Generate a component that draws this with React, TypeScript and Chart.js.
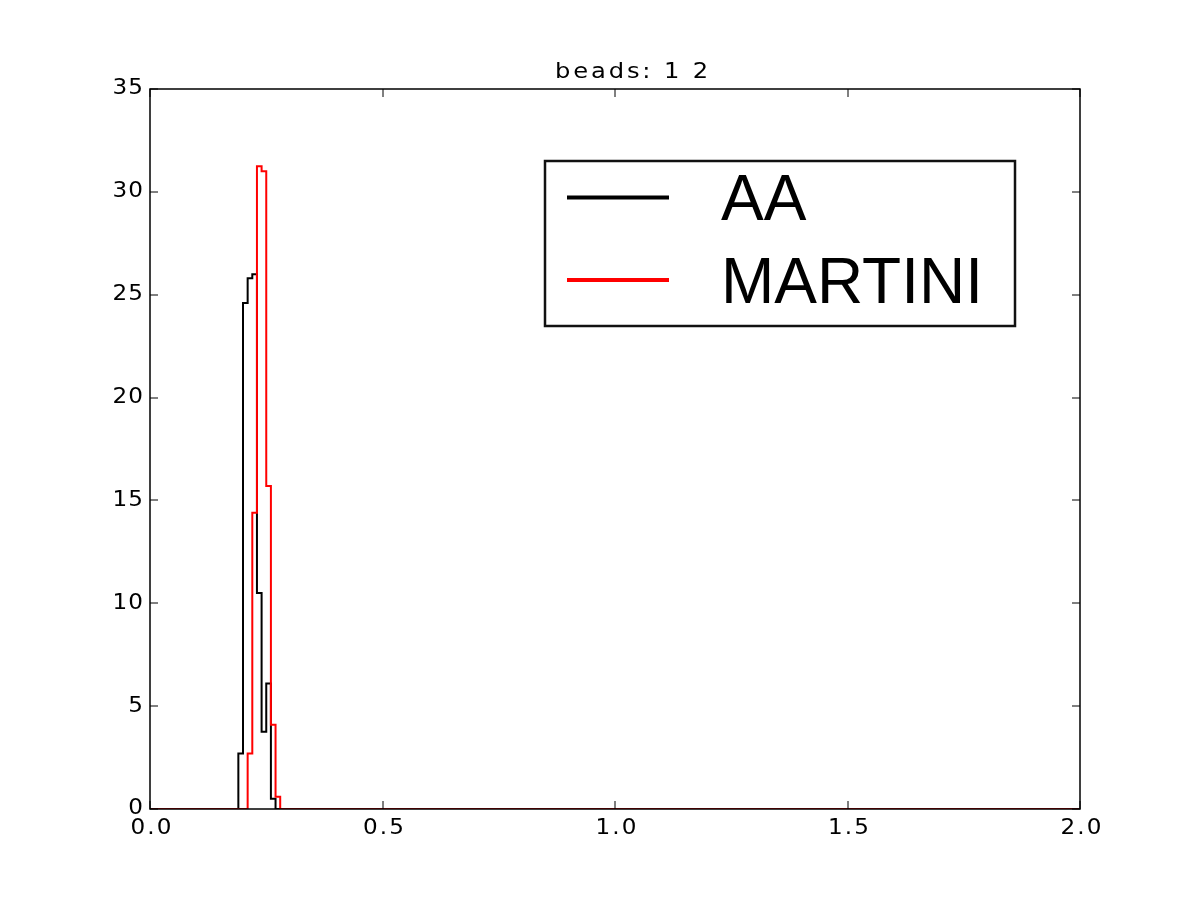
import React, { useEffect, useRef } from "react";
import { Chart, registerables } from "chart.js";

Chart.register(...registerables);

const titleText = "beads: 1 2";
const seriesLabels = ["AA", "MARTINI"];
const seriesColors = ["#000000", "#ff0000"];
const binLefts = [0.19, 0.2, 0.21, 0.22, 0.23, 0.24, 0.25, 0.26, 0.27, 0.28];
const aaValues = [2.7, 24.6, 25.8, 26.0, 10.5, 3.75, 6.1, 0.5, 0, 0];
const martiniValues = [0, 0, 2.7, 14.4, 31.25, 31.0, 15.7, 4.1, 0.6, 0];
const xRange = [0, 2];
const yRange = [0, 35];
const xTicks = [0, 0.5, 1.0, 1.5, 2.0];
const yTicks = [0, 5, 10, 15, 20, 25, 30, 35];

function toPoints(values: number[]) {
  const pts = [{ x: xRange[0], y: 0 }];
  binLefts.forEach((b, i) => pts.push({ x: b, y: values[i] }));
  pts.push({ x: xRange[1], y: 0 });
  return pts;
}

const SX = 1.1;

function drawStretched(ctx: any, s: string, x: number, y: number, align: string, ls: number) {
  ctx.save();
  ctx.letterSpacing = ls + "px";
  const w = (ctx.measureText(s).width - ls) * SX;
  let x0 = x;
  if (align === "center") x0 = x - w / 2;
  else if (align === "right") x0 = x - w;
  ctx.translate(x0, y);
  ctx.scale(SX, 1);
  ctx.textAlign = "left";
  ctx.fillText(s, 0, 0);
  ctx.restore();
}

const framePlugin = {
  id: "mplFrame",
  afterDraw(chart: any) {
    const ctx = chart.ctx;
    const { left, right, top, bottom } = chart.chartArea;
    const xs = chart.scales.x;
    const ys = chart.scales.y;
    ctx.save();
    ctx.strokeStyle = "#000";
    ctx.lineWidth = 1;
    xTicks.forEach((t) => {
      const px = Math.round(xs.getPixelForValue(t));
      ctx.beginPath();
      ctx.moveTo(px, bottom);
      ctx.lineTo(px, bottom - 8);
      ctx.moveTo(px, top);
      ctx.lineTo(px, top + 8);
      ctx.stroke();
    });
    yTicks.forEach((t) => {
      const py = Math.round(ys.getPixelForValue(t));
      ctx.beginPath();
      ctx.moveTo(left, py);
      ctx.lineTo(left + 8, py);
      ctx.moveTo(right, py);
      ctx.lineTo(right - 8, py);
      ctx.stroke();
    });
    ctx.lineWidth = 1.5;
    ctx.strokeStyle = "#000";
    ctx.strokeRect(left, top, right - left, bottom - top);

    ctx.fillStyle = "#000";
    ctx.font = '21px "DejaVu Sans"';
    ctx.textBaseline = "top";
    xTicks.forEach((t) => {
      const px = xs.getPixelForValue(t);
      drawStretched(ctx, t.toFixed(1), px + 1, bottom + 9, "center", 2);
    });
    ctx.textBaseline = "middle";
    yTicks.forEach((t) => {
      const py = ys.getPixelForValue(t);
      drawStretched(ctx, String(t), left - 7, py, "right", 1);
    });
    ctx.font = '22px "DejaVu Sans"';
    ctx.textBaseline = "alphabetic";
    drawStretched(ctx, titleText, 555, 78, "left", 2.6);

    ctx.fillStyle = "#fff";
    ctx.fillRect(545, 161, 470, 165);
    ctx.lineWidth = 2.5;
    ctx.strokeStyle = "#111";
    ctx.strokeRect(545, 161, 470, 165);
    const rows = [
      { y: 197.5, base: 220 },
      { y: 280, base: 303 },
    ];
    ctx.font = '64px "Liberation Sans"';
    ctx.textAlign = "left";
    seriesLabels.forEach((lab, i) => {
      ctx.strokeStyle = seriesColors[i];
      ctx.lineWidth = 4;
      ctx.beginPath();
      ctx.moveTo(567, rows[i].y);
      ctx.lineTo(669, rows[i].y);
      ctx.stroke();
      ctx.fillStyle = "#000";
      ctx.fillText(lab, 721, rows[i].base);
    });
    ctx.restore();
  },
};

export default function App() {
  const ref = useRef<HTMLCanvasElement>(null);
  useEffect(() => {
    document.body.style.margin = "0";
    document.body.style.background = "#fff";
    const chart = new Chart(ref.current as HTMLCanvasElement, {
      type: "line",
      data: {
        datasets: [
          {
            label: seriesLabels[0],
            data: toPoints(aaValues),
            borderColor: seriesColors[0],
            borderWidth: 2,
            pointRadius: 0,
            stepped: "before",
            fill: false,
            order: 1,
          },
          {
            label: seriesLabels[1],
            data: toPoints(martiniValues),
            borderColor: seriesColors[1],
            borderWidth: 2,
            pointRadius: 0,
            stepped: "before",
            fill: false,
            order: 0,
          },
        ],
      },
      options: {
        animation: false,
        responsive: false,
        maintainAspectRatio: false,
        layout: { padding: { left: 150, right: 120, top: 89, bottom: 91 } },
        scales: {
          x: { type: "linear", min: xRange[0], max: xRange[1], display: false },
          y: { type: "linear", min: yRange[0], max: yRange[1], display: false },
        },
        plugins: {
          legend: { display: false },
          tooltip: { enabled: false },
          title: { display: false },
        },
      },
      plugins: [framePlugin],
    });
    return () => chart.destroy();
  }, []);
  return (
    <div style={{ width: 1200, height: 900, background: "#fff" }}>
      <canvas ref={ref} width={1200} height={900} style={{ width: 1200, height: 900 }} />
    </div>
  );
}
